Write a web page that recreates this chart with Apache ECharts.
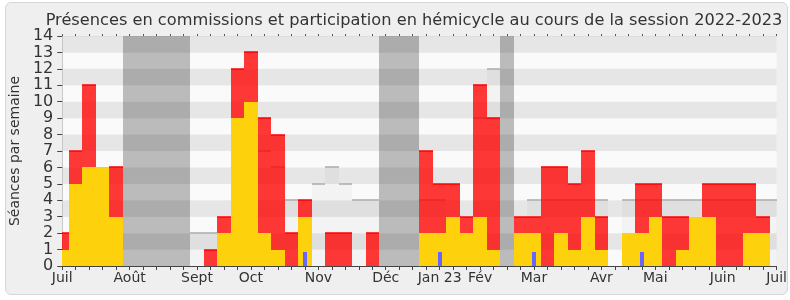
<!DOCTYPE html>
<html>
<head>
<meta charset="utf-8">
<script src="https://cdn.jsdelivr.net/npm/echarts@6/dist/echarts.min.js"></script>
<style>
html,body{margin:0;padding:0;background:#fff;}
#wrap{position:relative;width:790px;height:300px;overflow:hidden;}
#frame{position:absolute;left:5px;top:2px;width:781px;height:291px;border:1px solid #d6d6d6;border-radius:6px;background:#efefef;}
#c{position:absolute;left:0;top:0;width:790px;height:300px;}
</style>
</head>
<body>
<div id="wrap"><div id="frame"></div><div id="c"></div></div>
<script>
// ---- data (one entry per week, week 0 = début juillet 2022) ----
const weeks = Array.from({length: 54}, (_, i) => i);
const tickWeeks  = [0, 5, 10, 14, 19, 24, 28, 31, 35, 40, 44, 49, 53];
const tickLabels = ['Juil', 'Août', 'Sept', 'Oct', 'Nov', 'Déc', 'Jan 23', 'Fév', 'Mar', 'Avr', 'Mai', 'Juin', 'Juil'];

// participation en hémicycle (jaune)
const hemicycle = [1,5,6,6,3, 0,0,0,0,0, 0,0,2,9,10, 2,1,0,3,0, 0,0,0,0,0, 0,0,2,2,3,
                   2,3,1,0,2, 2,0,2,1,3, 1,0,2,2,3, 0,1,3,3,0, 0,2,2,0];
// présences en commission (rouge, empilé au-dessus)
const commission = [1,2,5,0,3, 0,0,0,0,0, 0,1,1,3,3, 7,7,2,1,0, 2,2,0,2,0, 0,0,5,3,2,
                    1,8,8,0,1, 1,6,4,4,4, 2,0,0,3,2, 3,2,0,2,5, 5,3,1,0];
// médiane des députés (gris clair)
const median = [0,0,0,0,0, 0,0,0,0,0, 2,2,0,0,0, 7,6,4,0,5, 6,5,4,4,0, 0,0,4,4,0,
                0,9,12,0,0, 4,4,4,4,4, 4,0,4,4,4, 4,4,4,4,4, 4,4,4,4];
// semaines de vacances parlementaires
const vacationWeeks = [5, 6, 7, 8, 9, 24, 25, 26, 33];
// questions orales (bleu)
const questionWeeks = [18, 28, 35, 43];
const questionValues = [0.85, 0.85, 0.85, 0.85];

const Y_MAX = 14;
const FONT = 'DejaVu Sans';

function makeRender(fill, lineColor, lineWidth, frac) {
  return function (params, api) {
    const w = api.value(0), b = api.value(1), t = api.value(2);
    if (!(t > b)) return null;
    const band = api.size([1, 0])[0];
    const ct = api.coord([w, t]);
    const cb = api.coord([w, b]);
    const half = band * frac / 2;
    const cs = params.coordSys;
    let x0 = Math.round(ct[0] - half), x1 = Math.round(ct[0] + half);
    x0 = Math.max(x0, Math.round(cs.x)); x1 = Math.min(x1, Math.round(cs.x + cs.width));
    if (x1 <= x0) return null;
    const y0 = Math.round(ct[1]), y1 = Math.round(cb[1]);
    const children = [{type: 'rect', shape: {x: x0, y: y0, width: x1 - x0, height: y1 - y0}, style: {fill: fill}}];
    if (lineColor) {
      children.push({type: 'rect', shape: {x: x0, y: y0 - lineWidth / 2, width: x1 - x0, height: lineWidth}, style: {fill: lineColor}});
    }
    return {type: 'group', children: children};
  };
}

const vacData = weeks.map(w => [w, 0, vacationWeeks.includes(w) ? Y_MAX : 0]);
const medData = weeks.map(w => [w, 0, median[w]]);
const hemiData = weeks.map(w => [w, 0, hemicycle[w]]);
const comData = weeks.map(w => [w, hemicycle[w], hemicycle[w] + commission[w]]);
const qData = questionWeeks.map((w, i) => [w, 0, questionValues[i]]);

function customSeries(name, data, render) {
  return {type: 'custom', name: name, data: data, renderItem: render, encode: {x: 0, y: 2}, silent: true, animation: false};
}

const chart = echarts.init(document.getElementById('c'), null, {renderer: 'canvas'});
chart.setOption({
  animation: false,
  backgroundColor: 'transparent',
  title: {
    text: 'Présences en commissions et participation en hémicycle au cours de la session 2022-2023',
    left: 409, top: 8, textAlign: 'center',
    textStyle: {fontSize: 16.2, fontWeight: 'normal', color: '#333', fontFamily: FONT}
  },
  grid: {left: 62, right: 10, top: 36, bottom: 34, containLabel: false},
  xAxis: [{
    type: 'value', min: 0, max: 53, interval: 1, position: 'bottom',
    axisLine: {show: true, onZero: false, lineStyle: {color: '#444'}},
    axisTick: {show: true, length: 4, lineStyle: {color: '#444'}},
    axisLabel: {
      formatter: v => { const i = tickWeeks.indexOf(Math.round(v)); return i >= 0 ? tickLabels[i] : ''; },
      color: '#333', fontSize: 14, fontFamily: FONT, margin: 5, showMinLabel: true, showMaxLabel: true
    },
    splitLine: {show: false}
  }, {
    type: 'value', min: 0, max: 53, interval: 1, position: 'top',
    axisLine: {show: true, onZero: false, lineStyle: {color: '#dcdcdc'}},
    axisTick: {show: true, length: 2, lineStyle: {color: '#555'}},
    axisLabel: {show: false}, splitLine: {show: false}
  }],
  yAxis: [{
    type: 'value', min: 0, max: Y_MAX, interval: 1,
    name: 'Séances par semaine', nameLocation: 'middle', nameGap: 40, nameRotate: 90,
    nameTextStyle: {color: '#333', fontSize: 14, fontFamily: FONT},
    axisLine: {show: true, lineStyle: {color: '#444'}},
    axisTick: {show: true, length: 5, lineStyle: {color: '#444'}},
    axisLabel: {color: '#333', fontSize: 16, fontFamily: FONT, margin: 9},
    splitLine: {show: false},
    splitArea: {show: true, areaStyle: {color: ['#fafafa', '#e6e6e6']}}
  }, {
    type: 'value', min: 0, max: Y_MAX, interval: 1, position: 'right',
    axisLine: {show: true, lineStyle: {color: '#c8c8c8'}},
    axisTick: {show: false}, axisLabel: {show: false}, splitLine: {show: false}
  }],
  series: [
    customSeries('Vacances', vacData, makeRender('rgba(0,0,0,0.25)', null, 0, 1)),
    customSeries('Médiane', medData, makeRender('rgba(0,0,0,0.028)', '#aaaaaa', 1.5, 1)),
    customSeries('Hémicycle', hemiData, makeRender('#fdd10b', null, 0, 1)),
    customSeries('Commission', comData, makeRender('rgba(255,0,0,0.78)', '#ff0000', 1.5, 1)),
    customSeries('Questions', qData, makeRender('#6666ff', null, 0, 0.3))
  ]
});
</script>
</body>
</html>
